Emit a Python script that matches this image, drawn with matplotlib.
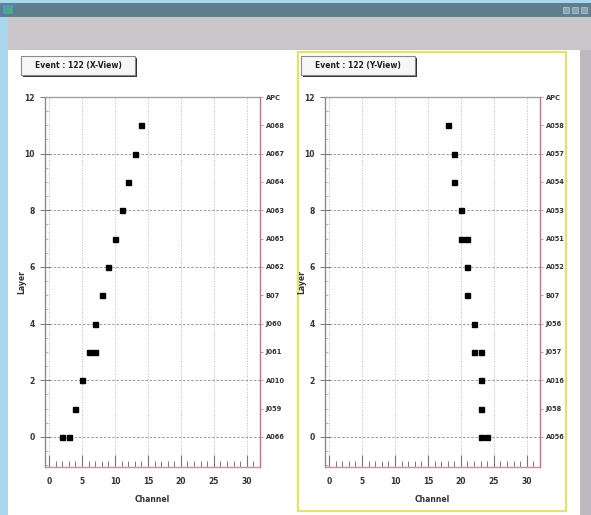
"""
Event display: hit channels per layer for the X and Y views
"""
import matplotlib
matplotlib.use('Agg')
import matplotlib.pyplot as plt
from matplotlib.patches import Rectangle
from matplotlib.ticker import MultipleLocator

W, H = 591, 515

# hits in the X view (channel, layer)
x_view_channels = [2, 3, 4, 5, 6, 7, 7, 8, 9, 10, 11, 12, 13, 14]
x_view_layers = [0, 0, 1, 2, 3, 3, 4, 5, 6, 7, 8, 9, 10, 11]

# hits in the Y view (channel, layer)
y_view_channels = [23, 24, 23, 23, 22, 23, 22, 21, 21, 20, 21, 20, 19, 19, 18]
y_view_layers = [0, 0, 1, 2, 3, 3, 4, 5, 6, 7, 7, 8, 9, 10, 11]

# readout board names per layer (0..11) plus header
x_view_boards = ['A066', 'J059', 'A010', 'J061', 'J060', 'B07', 'A062',
                 'A065', 'A063', 'A064', 'A067', 'A068', 'APC']
y_view_boards = ['A056', 'J058', 'A016', 'J057', 'J056', 'B07', 'A052',
                 'A051', 'A053', 'A054', 'A057', 'A058', 'APC']

event_id = 122


def px_rect(x0, y0, x1, y1, zorder=-10, **kw):
    """Rectangle given in window pixels (origin top-left)"""
    return Rectangle((x0 / W, 1 - y1 / H), (x1 - x0) / W, (y1 - y0) / H,
                     transform=fig.transFigure, zorder=zorder, **kw)


def px_axes(x0, y0, x1, y1):
    return fig.add_axes([x0 / W, 1 - y1 / H, (x1 - x0) / W, (y1 - y0) / H])


fig = plt.figure(figsize=(W / 100, H / 100), dpi=100)
fig.patch.set_facecolor('#aad6ee')

# window chrome
fig.patches.append(px_rect(0, 3, W, 17, facecolor='#5f7e8e', edgecolor='none'))
fig.patches.append(px_rect(3, 5, 13, 14, facecolor='#4a9ac8', edgecolor='none'))
fig.patches.append(px_rect(6, 8, 11, 13, facecolor='#58b050', edgecolor='none'))
for bx in (563, 572, 581):
    fig.patches.append(px_rect(bx, 7, bx + 6, 13, facecolor='#8aa4b0',
                               edgecolor='#b8ccd4', linewidth=0.5))
fig.patches.append(px_rect(8, 17, W, 50, facecolor='#c9c5c9', edgecolor='none'))
fig.patches.append(px_rect(8, 50, 580, H, facecolor='white', edgecolor='none'))
fig.patches.append(px_rect(580, 50, W, H, facecolor='#bdb9c1', edgecolor='none'))

# selected pad frame
fig.patches.append(px_rect(298, 52, 566, 511, zorder=-5, facecolor='none',
                           edgecolor='#e6e45a', linewidth=1.5))


def title_box(x0, y0, x1, y1, text):
    fig.patches.append(px_rect(x0 + 2, y0 + 2, x1 + 2, y1 + 2, zorder=3,
                               facecolor='#303030', edgecolor='none'))
    fig.patches.append(px_rect(x0, y0, x1, y1, zorder=4, facecolor='#f6f6f6',
                               edgecolor='#8a8a8a', linewidth=0.8))
    fig.text((x0 + x1) / 2 / W, 1 - (y0 + y1) / 2 / H, text, fontsize=5.5,
             fontweight='bold', color='#222222', ha='center', va='center',
             zorder=6)


def draw_view(x0, channels, layers, boards, title):
    ax = px_axes(x0, 97, x0 + 215, 467)
    ax.set_facecolor('white')
    ax.set_xlim(-0.62, 32)
    ax.set_ylim(-1.06, 12)

    ax.xaxis.set_major_locator(MultipleLocator(5))
    ax.xaxis.set_minor_locator(MultipleLocator(1))
    ax.yaxis.set_major_locator(MultipleLocator(2))
    ax.yaxis.set_minor_locator(MultipleLocator(0.5))

    ax.grid(axis='x', which='major', color='#b8b8b8', linestyle=':', linewidth=0.7)
    ax.grid(axis='y', which='major', color='#8c8c8c', linestyle=(0, (3, 2)), linewidth=0.6)

    ax.tick_params(axis='x', which='major', direction='in', length=9, width=0.8,
                   color='#777777', labelsize=5.5, pad=7)
    ax.tick_params(axis='x', which='minor', direction='in', length=4.5, width=0.7,
                   color='#777777')
    ax.tick_params(axis='y', which='major', direction='inout', length=7, width=0.7,
                   color='#777777', labelsize=5.5, pad=4)
    ax.tick_params(axis='y', which='minor', direction='in', length=2.5, width=0.5,
                   color='#999999')
    for lab in ax.get_xticklabels() + ax.get_yticklabels():
        lab.set_fontweight('bold')
        lab.set_color('#333333')

    ax.spines['left'].set_color('#8a8a8a')
    ax.spines['top'].set_color('#a0a0a0')
    ax.spines['right'].set_color('#c27080')
    ax.spines['bottom'].set_color('#d48c9a')
    for s in ax.spines.values():
        s.set_linewidth(1.0)

    ax.plot(channels, layers, 's', color='black', markersize=3.6, linestyle='none')

    ax.set_xlabel('Channel', fontsize=5.5, fontweight='bold', color='#333333')
    ax.set_ylabel('Layer', fontsize=5.5, fontweight='bold', color='#333333')
    ax.xaxis.set_label_coords(0.5, -28 / 370)
    ax.yaxis.set_label_coords(-19 / 215, 0.5)

    # board names on the right-hand side
    ax2 = ax.twinx()
    ax2.set_ylim(ax.get_ylim())
    ax2.set_yticks(range(len(boards)))
    ax2.set_yticklabels(boards, fontsize=4.8, fontweight='bold', color='#333333')
    ax2.tick_params(axis='y', direction='out', length=2.5, width=0.6,
                    color='#999999', pad=1.5)
    for s in ax2.spines.values():
        s.set_visible(False)

    title_box(x0 - 24, 56, x0 + 90, 75, title)
    return ax


draw_view(45, x_view_channels, x_view_layers, x_view_boards,
          f'Event : {event_id} (X-View)')
draw_view(325, y_view_channels, y_view_layers, y_view_boards,
          f'Event : {event_id} (Y-View)')

fig.savefig('out.png', dpi=100)
plt.close(fig)
